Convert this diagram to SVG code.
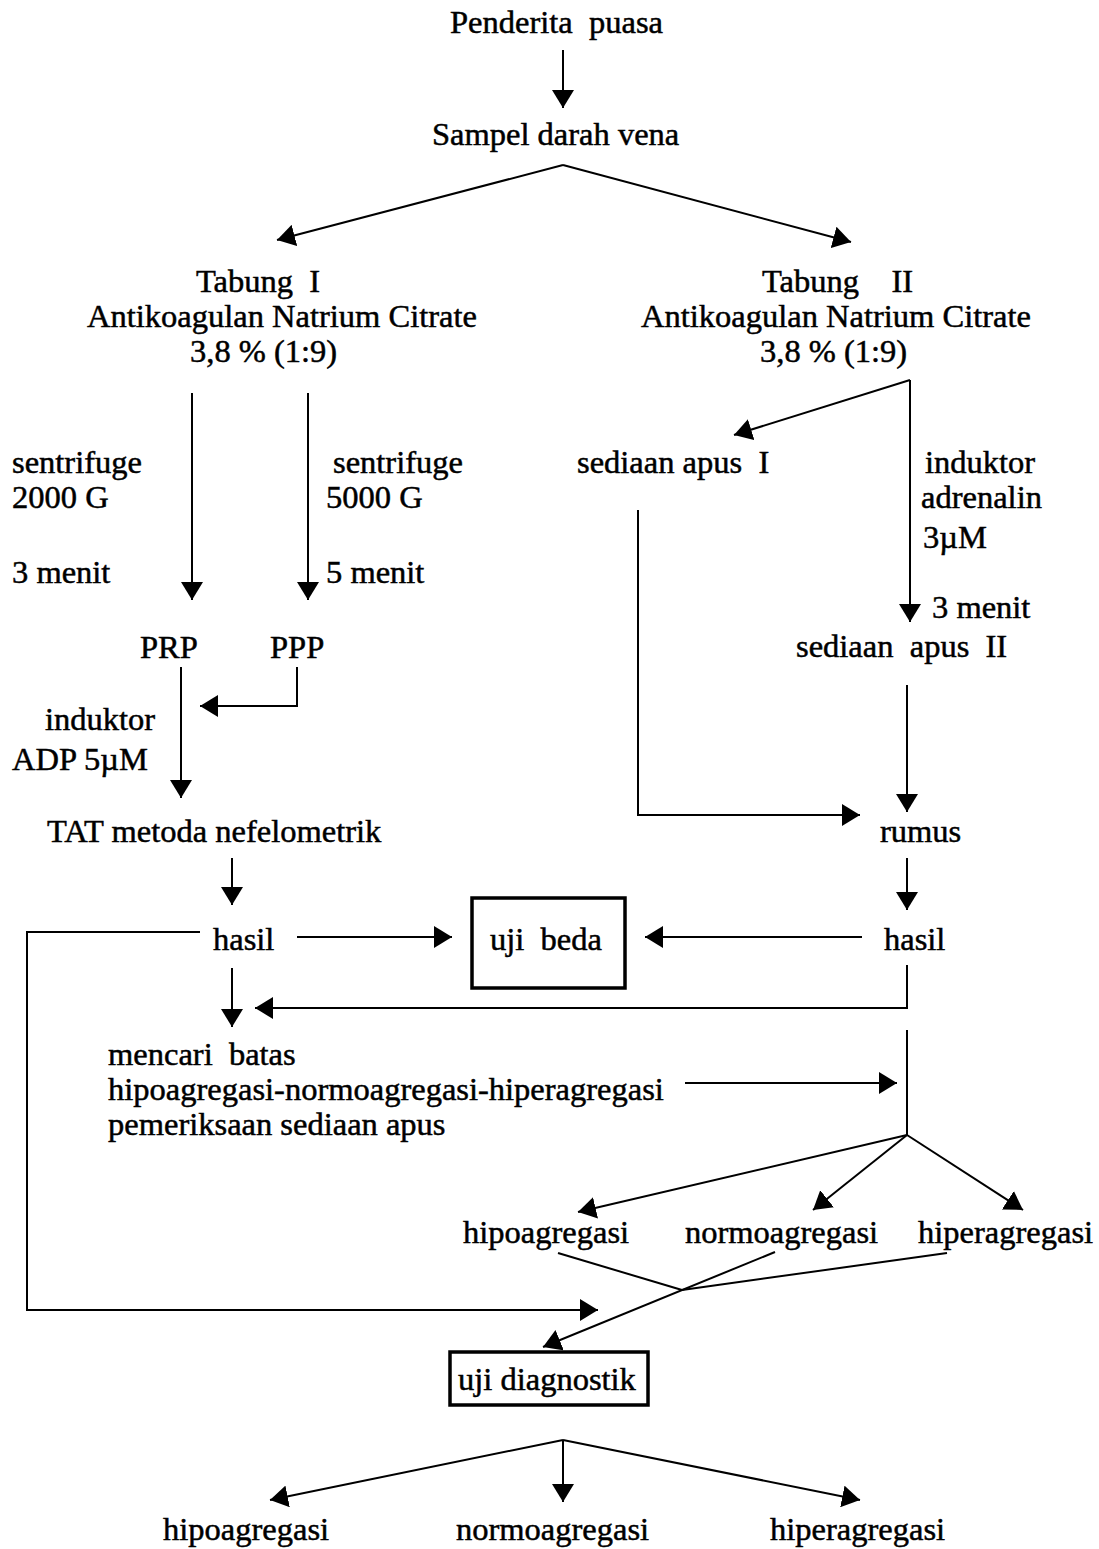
<svg xmlns="http://www.w3.org/2000/svg" width="1099" height="1549" viewBox="0 0 1099 1549">
<style>
text{font-family:"Liberation Serif","Times New Roman",serif;font-size:32.5px;fill:#000;stroke:#000;stroke-width:0.5;white-space:pre}
.c line,.c polyline{stroke:#000;stroke-width:2;fill:none}
.box{fill:none;stroke:#000;stroke-width:3.5}
</style>
<defs>
<marker id="ah" markerUnits="userSpaceOnUse" markerWidth="18" markerHeight="22" refX="18" refY="11" orient="auto">
<path d="M0,0 L18,11 L0,22 Z" fill="#000"/>
</marker>
</defs>
<rect width="1099" height="1549" fill="#fff"/>
<g class="c" id="connectors">
<line x1="563" y1="50" x2="563" y2="108" marker-end="url(#ah)"/>
<line x1="563" y1="165" x2="277" y2="240" marker-end="url(#ah)"/>
<line x1="563" y1="165" x2="851" y2="242" marker-end="url(#ah)"/>
<line x1="192" y1="393" x2="192" y2="600" marker-end="url(#ah)"/>
<line x1="308" y1="393" x2="308" y2="600" marker-end="url(#ah)"/>
<line x1="181" y1="667" x2="181" y2="798" marker-end="url(#ah)"/>
<polyline points="297,667 297,706 200,706" marker-end="url(#ah)"/>
<line x1="910" y1="380" x2="734" y2="435" marker-end="url(#ah)"/>
<line x1="910" y1="380" x2="910" y2="622" marker-end="url(#ah)"/>
<polyline points="638,510 638,815 860,815" marker-end="url(#ah)"/>
<line x1="907" y1="685" x2="907" y2="812" marker-end="url(#ah)"/>
<line x1="232" y1="858" x2="232" y2="905" marker-end="url(#ah)"/>
<line x1="907" y1="858" x2="907" y2="910" marker-end="url(#ah)"/>
<line x1="297" y1="937" x2="452" y2="937" marker-end="url(#ah)"/>
<line x1="862" y1="937" x2="645" y2="937" marker-end="url(#ah)"/>
<line x1="232" y1="968" x2="232" y2="1027" marker-end="url(#ah)"/>
<polyline points="907,965 907,1008 255,1008" marker-end="url(#ah)"/>
<line x1="685" y1="1083" x2="897" y2="1083" marker-end="url(#ah)"/>
<line x1="907" y1="1030" x2="907" y2="1135"/>
<line x1="907" y1="1135" x2="578" y2="1212" marker-end="url(#ah)"/>
<line x1="907" y1="1135" x2="813" y2="1210" marker-end="url(#ah)"/>
<line x1="907" y1="1135" x2="1023" y2="1210" marker-end="url(#ah)"/>
<polyline points="200,932 27,932 27,1310 598,1310" marker-end="url(#ah)"/>
<line x1="558" y1="1253" x2="682" y2="1290"/>
<line x1="947" y1="1253" x2="682" y2="1290"/>
<line x1="775" y1="1252" x2="543" y2="1347" marker-end="url(#ah)"/>
<line x1="563" y1="1440" x2="270" y2="1500" marker-end="url(#ah)"/>
<line x1="563" y1="1440" x2="563" y2="1502" marker-end="url(#ah)"/>
<line x1="563" y1="1440" x2="860" y2="1500" marker-end="url(#ah)"/>
</g>
<g id="n-penderita"><text x="450" y="33">Penderita  puasa</text></g>
<g id="n-sampel"><text x="432" y="145">Sampel darah vena</text></g>
<g id="n-tabung1"><text x="196" y="292">Tabung  I</text><text x="87" y="327">Antikoagulan Natrium Citrate</text><text x="190" y="362">3,8 % (1:9)</text></g>
<g id="n-tabung2"><text x="762" y="292">Tabung    II</text><text x="641" y="327">Antikoagulan Natrium Citrate</text><text x="760" y="362">3,8 % (1:9)</text></g>
<g id="l-sent1"><text x="12" y="473">sentrifuge</text><text x="12" y="508">2000 G</text><text x="12" y="583">3 menit</text></g>
<g id="l-sent2"><text x="333" y="473">sentrifuge</text><text x="326" y="508">5000 G</text><text x="326" y="583">5 menit</text></g>
<g id="n-prp"><text x="140" y="658">PRP</text></g>
<g id="n-ppp"><text x="270" y="658">PPP</text></g>
<g id="l-adp"><text x="45" y="730">induktor</text><text x="12" y="770">ADP 5µM</text></g>
<g id="n-tat"><text x="47" y="842">TAT metoda nefelometrik</text></g>
<g id="n-hasil1"><text x="213" y="950">hasil</text></g>
<g id="n-ujibeda"><rect class="box" x="472" y="898" width="153" height="90"/><text x="490" y="950">uji  beda</text></g>
<g id="n-hasil2"><text x="884" y="950">hasil</text></g>
<g id="n-mencari"><text x="108" y="1065">mencari  batas</text><text x="108" y="1100">hipoagregasi-normoagregasi-hiperagregasi</text><text x="108" y="1135">pemeriksaan sediaan apus</text></g>
<g id="n-apus1"><text x="577" y="473">sediaan apus  I</text></g>
<g id="l-adrenalin"><text x="925" y="473">induktor</text><text x="921" y="508">adrenalin</text><text x="923" y="548">3µM</text><text x="932" y="618">3 menit</text></g>
<g id="n-apus2"><text x="796" y="657">sediaan  apus  II</text></g>
<g id="n-rumus"><text x="880" y="842">rumus</text></g>
<g id="n-hipo1"><text x="463" y="1243">hipoagregasi</text></g>
<g id="n-normo1"><text x="685" y="1243">normoagregasi</text></g>
<g id="n-hiper1"><text x="918" y="1243">hiperagregasi</text></g>
<g id="n-ujidiag"><rect class="box" x="450" y="1352" width="198" height="53"/><text x="458" y="1390">uji diagnostik</text></g>
<g id="n-hipo2"><text x="163" y="1540">hipoagregasi</text></g>
<g id="n-normo2"><text x="456" y="1540">normoagregasi</text></g>
<g id="n-hiper2"><text x="770" y="1540">hiperagregasi</text></g>
</svg>
